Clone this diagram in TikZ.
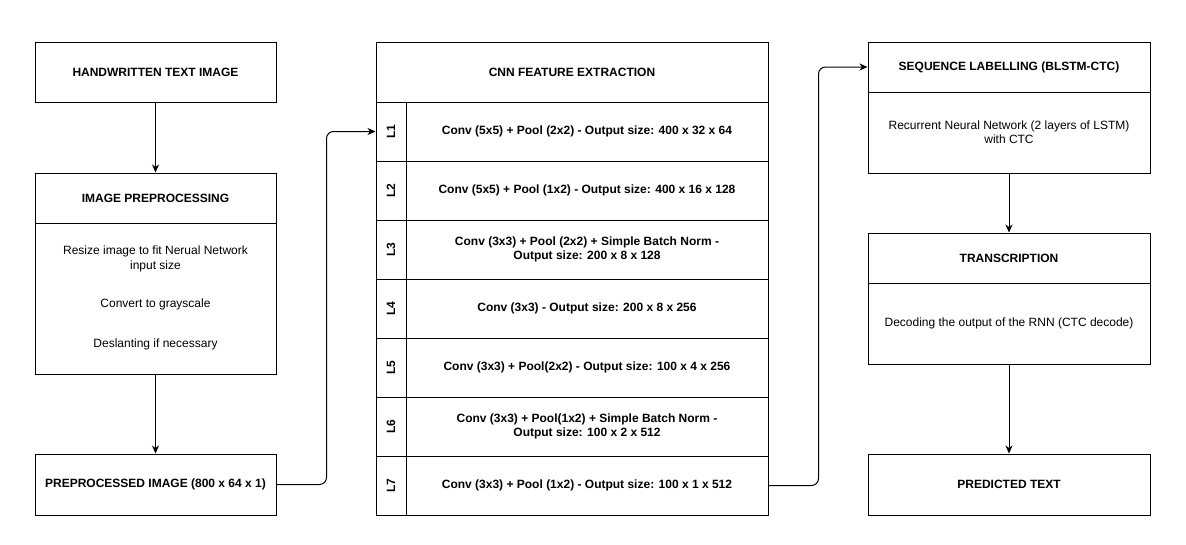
\documentclass[tikz,border=0pt]{standalone}
\usepackage{fontspec}
\setmainfont{Liberation Sans}
\usetikzlibrary{arrows.meta}

\begin{document}
\begin{tikzpicture}[x=1pt, y=-1pt,
        box/.style = {draw=black, line width=1pt, inner sep=0pt, align=center,
                      font={\fontsize{12}{14.4}\selectfont}},
        head/.style = {box, font={\fontsize{12}{14.4}\selectfont\bfseries}},
        txt/.style = {inner sep=0pt, align=center, font={\fontsize{12}{14.4}\selectfont}},
        lay/.style = {head, minimum width=30, minimum height=59},
        row/.style = {head, minimum width=362, minimum height=59},
        conn/.style = {line width=1pt, -{Stealth[length=8pt, width=7pt, inset=2.5pt]}}]
        \useasboundingbox (0,0) rectangle (1186,544);

        % left column
        \node[head, minimum width=241, minimum height=60] (input) at (155.5, 72) {HANDWRITTEN TEXT IMAGE};
        \node[head, minimum width=241, minimum height=50] (prephead) at (155.5, 198) {IMAGE PREPROCESSING};
        \node[box, minimum width=241, minimum height=151] (prepbody) at (155.5, 298.5) {};
        \node[txt] (prepa) at (155.5, 259) {Resize image to fit Nerual Network\\input size};
        \node[txt] (prepb) at (155.5, 304) {Convert to grayscale};
        \node[txt] (prepc) at (155.5, 344) {Deslanting if necessary};
        \node[head, minimum width=241, minimum height=61] (prepped) at (155.5, 484.5) {PREPROCESSED IMAGE (800 x 64 x 1)};

        % cnn column
        \node[head, minimum width=392, minimum height=60] (cnn) at (572, 72) {CNN FEATURE EXTRACTION};

        % first layer
        \node[lay] (l1lab) at (391, 131.5) {\rotatebox{90}{L1}};
        \node[row] (l1) at (587, 131.5) {Conv (5x5) + Pool (2x2) - Output size: 400 x 32 x 64};

        % second layer
        \node[lay] (l2lab) at (391, 190.5) {\rotatebox{90}{L2}};
        \node[row] (l2) at (587, 190.5) {Conv (5x5) + Pool (1x2) - Output size: 400 x 16 x 128};

        % third layer
        \node[lay] (l3lab) at (391, 249.5) {\rotatebox{90}{L3}};
        \node[row] (l3) at (587, 249.5) {Conv (3x3) + Pool (2x2) + Simple Batch Norm -\\Output size: 200 x 8 x 128};

        % fourth layer
        \node[lay] (l4lab) at (391, 308.5) {\rotatebox{90}{L4}};
        \node[row] (l4) at (587, 308.5) {Conv (3x3) - Output size: 200 x 8 x 256};

        % fifth layer
        \node[lay] (l5lab) at (391, 367.5) {\rotatebox{90}{L5}};
        \node[row] (l5) at (587, 367.5) {Conv (3x3) + Pool(2x2) - Output size: 100 x 4 x 256};

        % sixth layer
        \node[lay] (l6lab) at (391, 426.5) {\rotatebox{90}{L6}};
        \node[row] (l6) at (587, 426.5) {Conv (3x3) + Pool(1x2) + Simple Batch Norm -\\Output size: 100 x 2 x 512};

        % seventh layer
        \node[lay] (l7lab) at (391, 485.5) {\rotatebox{90}{L7}};
        \node[row] (l7) at (587, 485.5) {Conv (3x3) + Pool (1x2) - Output size: 100 x 1 x 512};

        % right column
        \node[head, minimum width=282, minimum height=50] (seqhead) at (1009, 67) {SEQUENCE LABELLING (BLSTM-CTC)};
        \node[box, minimum width=282, minimum height=81] (seqbody) at (1009, 132.5) {Recurrent Neural Network (2 layers of LSTM)\\with CTC};
        \node[head, minimum width=282, minimum height=50] (transhead) at (1009, 258) {TRANSCRIPTION};
        \node[box, minimum width=282, minimum height=81] (transbody) at (1009, 323.5) {Decoding the output of the RNN (CTC decode)};
        \node[head, minimum width=282, minimum height=61] (pred) at (1009, 484.5) {PREDICTED TEXT};

        % connectors
        \draw[conn] (input.south) -- (prephead.north);
        \draw[conn] (prepbody.south) -- (prepped.north);
        \draw[conn, rounded corners=7] (prepped.east) -- ++(50,0) |- (l1lab.west);
        \draw[conn, rounded corners=7] (l7.east) -- ++(50,0) |- (seqhead.west);
        \draw[conn] (seqbody.south) -- (transhead.north);
        \draw[conn] (transbody.south) -- (pred.north);

    \end{tikzpicture}
\end{document}
